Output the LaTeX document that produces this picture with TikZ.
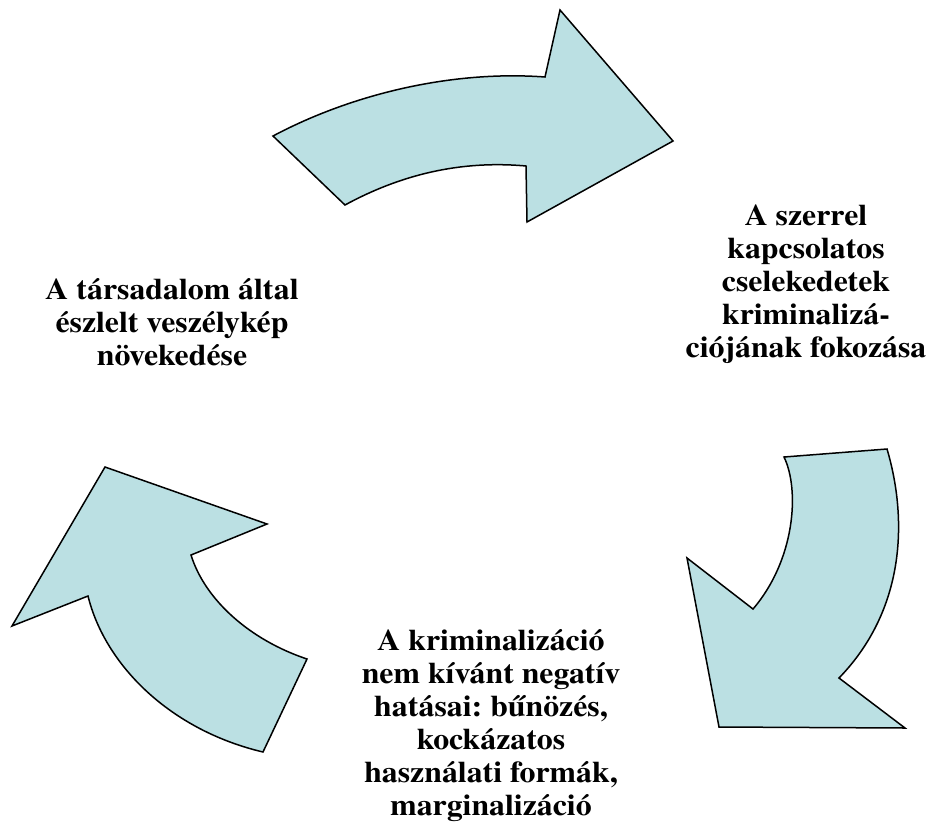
\documentclass[tikz,border=0pt]{standalone}
\usepackage{fontspec}
\setmainfont{texgyretermes}[Extension=.otf,UprightFont=*-regular,BoldFont=*-bold,FakeStretch=1.06]
\definecolor{ArrowClr}{RGB}{187,224,227}
\frenchspacing

\begin{document}
\begin{tikzpicture}[x=1pt,y=-1pt]
\tikzset{ArrowShape/.style={fill=ArrowClr,draw=black,line width=1.5pt,line join=miter},
  StepText/.style={align=center,font=\bfseries\fontsize{30}{33}\selectfont}}
\useasboundingbox (0,0) rectangle (928,836);

% top arrow
\coordinate (T1) at (273,136); \coordinate (T2) at (345,205); \coordinate (T3) at (526,166);
\coordinate (T4) at (527,222); \coordinate (T5) at (673,141); \coordinate (T6) at (560,10);
\coordinate (T7) at (545,77);
% right arrow
\coordinate (R1) at (887,449); \coordinate (R2) at (784,457); \coordinate (R3) at (753,609);
\coordinate (R4) at (687,558); \coordinate (R5) at (719,727); \coordinate (R6) at (905,728);
\coordinate (R7) at (839,678);
% left arrow
\coordinate (L1) at (263,752); \coordinate (L2) at (307,659); \coordinate (L3) at (191,555);
\coordinate (L4) at (267,524); \coordinate (L5) at (105,467); \coordinate (L6) at (12,626);
\coordinate (L7) at (88,596);

\draw[ArrowShape] (T1) .. controls (350,95) and (450,70) .. (T7) -- (T6) -- (T5) -- (T4) -- (T3)
  .. controls (460,160) and (400,175) .. (T2) -- cycle;
\draw[ArrowShape] (R1) .. controls (908,520) and (905,610) .. (R7) -- (R6) -- (R5) -- (R4) -- (R3)
  .. controls (795,560) and (800,490) .. (R2) -- cycle;
\draw[ArrowShape] (L1) .. controls (170,730) and (105,665) .. (L7) -- (L6) -- (L5) -- (L4) -- (L3)
  .. controls (205,600) and (250,640) .. (L2) -- cycle;

\node[StepText] (rise) at (172,322) {A társadalom által\\észlelt veszélykép\\növekedése};
\node[StepText] (crim) at (806,284) {A szerrel\\kapcsolatos\\cselekedetek\\kriminalizá-\\ciójának fokozása};
\node[StepText] (harm) at (491,726) {A kriminalizáció\\nem kívánt negatív\\hatásai: bűnözés,\\kockázatos\\használati formák,\\marginalizáció};

\end{tikzpicture}
\end{document}
